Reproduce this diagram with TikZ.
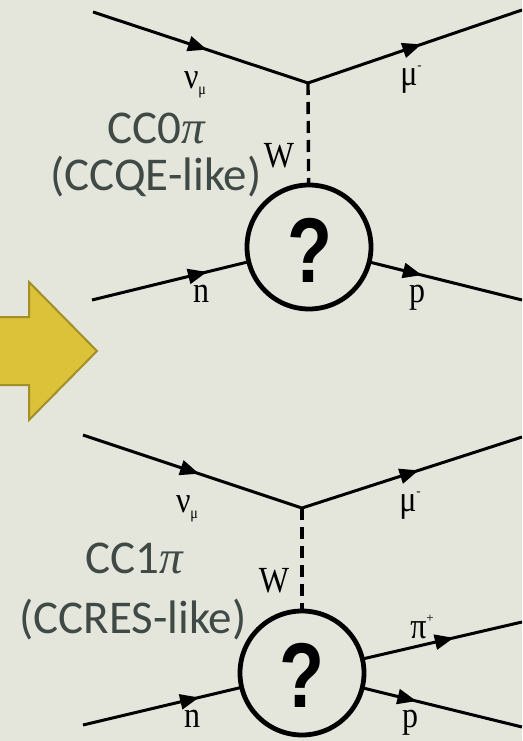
\documentclass[tikz,border=0pt]{standalone}
\usepackage{fontspec}
\usepackage{graphicx}
\setmainfont{Carlito}
\newfontfamily\labelfont{Liberation Serif}
\newfontfamily\qfont{Liberation Sans}
\usetikzlibrary{arrows.meta,decorations.markings}

\definecolor{bgcol}{HTML}{E4E5DB}
\definecolor{titlecol}{HTML}{3F4A46}
\definecolor{arrowfill}{HTML}{DCC238}
\definecolor{arrowedge}{HTML}{A38F28}

\tikzset{
  fermion/.style={line width=3pt, postaction={decorate},
    decoration={markings, mark=at position #1 with
      {\arrow{Triangle[length=19pt,width=15pt]}}}},
  fermion/.default=0.53,
  boson/.style={line width=3.4pt, dash pattern=on 12pt off 7pt},
  blob/.style={circle, draw, line width=4.8pt, fill=bgcol,
    minimum size=124pt, inner sep=0pt},
  plabel/.style={anchor=base, inner sep=0pt,
    font=\labelfont\fontsize{32}{32}\selectfont},
  title/.style={anchor=base, inner sep=0pt, text=titlecol,
    font=\fontsize{47}{47}\selectfont},
}
% stretched particle symbol
\newcommand{\pl}[1]{\scalebox{1}[1.15]{#1}}
\newcommand{\qmark}{\scalebox{0.8}[1]{\qfont\bfseries\fontsize{92}{92}\selectfont ?}}
\newcommand{\tpi}{{\labelfont\itshape π}}

\begin{document}
\begin{tikzpicture}[x=1pt,y=-1pt]
  \fill[bgcol] (0,0) rectangle (522,741);
  \useasboundingbox (0,0) rectangle (522,741);
  \clip (0,0) rectangle (522,741);

  % big yellow arrow
  \draw[fill=arrowfill, draw=arrowedge, line width=2pt]
    (-5,317) -- (29,317) -- (29,282) -- (97,351) -- (29,420) -- (29,385) -- (-5,385) -- cycle;

  % ---------- upper diagram: CC0pi ----------
  \coordinate (nuA) at (93,12);
  \coordinate (vA)  at (308,83);
  \coordinate (muA) at (522,10);
  \coordinate (cA)  at (309,247);
  \coordinate (nA)  at (92,300);
  \coordinate (pA)  at (522,300);

  \draw[fermion] (nuA) -- (vA);
  \draw[fermion] (vA) -- (muA);
  \draw[boson] (vA) -- (cA);
  \draw[fermion] (nA) -- (cA);
  \draw[fermion] (cA) -- (pA);
  \node[blob] (qA) at (cA) {};
  \node[anchor=base, inner sep=0pt] (qmA) at (309.5,282) {\qmark};

  \node[plabel] (lnuA) at (195,89) {\pl{ν}\raisebox{-6pt}{\fontsize{14}{14}\selectfont\pl{μ}}};
  \node[plabel] (lmuA) at (411,86) {\pl{μ}\raisebox{16pt}{\fontsize{13}{13}\selectfont -}};
  \node[plabel] (lwA)  at (279,167) {\pl{W}};
  \node[plabel] (lnA)  at (201,302) {\pl{n}};
  \node[plabel] (lpA)  at (417,302) {\pl{p}};

  \node[title] (tA1) at (156,143) {CC0\tpi};
  \node[title] (tA2) at (156,190) {(CCQE-like)};

  % ---------- lower diagram: CC1pi ----------
  \coordinate (nuB) at (83,435);
  \coordinate (vB)  at (302,508);
  \coordinate (muB) at (522,437);
  \coordinate (cB)  at (302,673);
  \coordinate (nB)  at (83,725);
  \coordinate (piB) at (522,622);
  \coordinate (pB)  at (522,727);

  \draw[fermion] (nuB) -- (vB);
  \draw[fermion] (vB) -- (muB);
  \draw[boson] (vB) -- (cB);
  \draw[fermion] (nB) -- (cB);
  \draw[fermion=0.69] (cB) -- (piB);
  \draw[fermion=0.52] (cB) -- (pB);
  \node[blob] (qB) at (cB) {};
  \node[anchor=base, inner sep=0pt] (qmB) at (301.5,707) {\qmark};

  \node[plabel] (lnuB) at (187,512) {\pl{ν}\raisebox{-6pt}{\fontsize{14}{14}\selectfont\pl{μ}}};
  \node[plabel] (lmuB) at (410,511) {\pl{μ}\raisebox{16pt}{\fontsize{13}{13}\selectfont -}};
  \node[plabel] (lwB)  at (274,592) {\pl{W}};
  \node[plabel] (lpiB) at (422,638) {\pl{π}\raisebox{16pt}{\fontsize{13}{13}\selectfont +}};
  \node[plabel] (lnB)  at (192,727) {\pl{n}};
  \node[plabel] (lpB)  at (410,727) {\pl{p}};

  \node[title] (tB1) at (134,573) {CC1\tpi};
  \node[title] (tB2) at (133,633) {(CCRES-like)};
\end{tikzpicture}
\end{document}
